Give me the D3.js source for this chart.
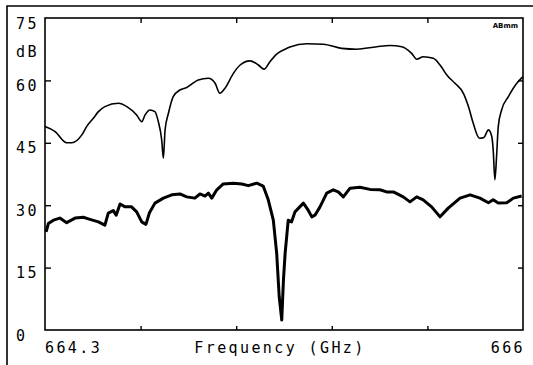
<!DOCTYPE html>
<html>
<head>
<meta charset="utf-8">
<script src="https://cdn.jsdelivr.net/npm/d3@7"></script>
<style>
  body { margin: 0; background: #fff; }
  svg text { font-family: "DejaVu Sans Mono", monospace; font-size: 15px; letter-spacing: 2.4px; fill: #000; }
</style>
</head>
<body>
<div id="chart"></div>
<script>
// upper trace (thin): frequency in GHz, level in dB
const upperFreq = [664.300, 664.336, 664.377, 664.395, 664.431, 664.448, 664.472, 664.490, 664.513, 664.561,
    664.591, 664.626, 664.644, 664.656, 664.673, 664.691, 664.703, 664.715, 664.721, 664.727,
    664.739, 664.756, 664.780, 664.804, 664.845, 664.881, 664.905, 664.922, 664.940, 664.970,
    664.994, 665.029, 665.059, 665.079, 665.100, 665.124, 665.154, 665.171, 665.231, 665.290,
    665.355, 665.409, 665.480, 665.527, 665.569, 665.604, 665.622, 665.645, 665.681, 665.705,
    665.729, 665.758, 665.788, 665.806, 665.823, 665.845, 665.861, 665.877, 665.889, 665.894,
    665.900, 665.906, 665.912, 665.924, 665.948, 665.978, 666.000];
const upperDb = [48.9, 47.7, 45.0, 45.0, 46.9, 48.9, 50.9, 52.5, 53.7, 54.5,
    53.7, 51.7, 50.1, 51.7, 52.9, 52.5, 50.1, 45.7, 41.3, 48.1,
    52.1, 56.1, 57.7, 58.3, 60.1, 60.5, 59.3, 56.9, 58.1, 61.7,
    63.7, 64.7, 63.7, 62.7, 64.5, 66.3, 67.5, 68.0, 68.8, 68.7,
    67.7, 67.5, 68.1, 68.4, 68.1, 66.5, 65.1, 65.7, 65.3, 63.7,
    61.3, 59.3, 56.9, 53.7, 49.7, 46.1, 46.3, 48.1, 46.5, 43.3,
    36.1, 41.7, 48.9, 52.9, 56.1, 59.3, 60.9];

// lower trace (thick)
const lowerFreq = [664.304, 664.312, 664.330, 664.353, 664.377, 664.407, 664.436, 664.460, 664.490, 664.513,
    664.525, 664.543, 664.553, 664.567, 664.585, 664.608, 664.626, 664.644, 664.659, 664.671,
    664.691, 664.721, 664.751, 664.780, 664.804, 664.833, 664.851, 664.869, 664.881, 664.893,
    664.911, 664.934, 664.970, 665.000, 665.023, 665.053, 665.076, 665.094, 665.112, 665.124,
    665.133, 665.142, 665.148, 665.154, 665.165, 665.177, 665.189, 665.219, 665.236, 665.249,
    665.260, 665.278, 665.302, 665.325, 665.343, 665.361, 665.385, 665.420, 665.456, 665.491,
    665.515, 665.539, 665.574, 665.598, 665.622, 665.645, 665.675, 665.705, 665.734, 665.776,
    665.812, 665.847, 665.877, 665.894, 665.912, 665.942, 665.966, 665.995];
const lowerDb = [23.6, 25.6, 26.4, 26.9, 25.8, 26.9, 27.1, 26.6, 26.0, 25.2,
    28.1, 28.7, 27.6, 30.3, 29.6, 29.6, 28.4, 26.0, 25.4, 28.1,
    30.5, 31.7, 32.5, 32.7, 32.0, 31.7, 32.7, 32.2, 32.9, 31.7,
    33.7, 35.1, 35.3, 35.1, 34.7, 35.3, 34.6, 31.3, 26.4, 18.4,
    8.0, 2.4, 12.0, 18.4, 26.4, 26.0, 28.4, 30.5, 28.8, 27.2,
    27.6, 29.6, 32.9, 33.7, 33.2, 32.0, 34.1, 34.3, 33.8, 33.7,
    33.2, 33.2, 32.0, 30.8, 32.0, 31.3, 29.6, 27.2, 29.3, 31.7,
    32.5, 31.7, 30.6, 31.3, 30.5, 30.6, 31.7, 32.2];

const freqTicks = [664.64, 664.98, 665.32, 665.66];
const dbTicks = [15, 30, 45, 60];
const dbLabels = [0, 15, 30, 45, 60, 75];
const xEndLabels = ['664.3', '666'];
const xTitle = 'Frequency (GHz)';
const yUnit = 'dB';
const badge = 'ABmm';

const width = 533, height = 365;
const plot = { left: 45, right: 523, top: 18, bottom: 330 };

const svg = d3.select('#chart').append('svg')
    .attr('width', width)
    .attr('height', height);

const x = d3.scaleLinear().domain([664.3, 666]).range([plot.left, plot.right]);
const y = d3.scaleLinear().domain([0, 75]).range([plot.bottom, plot.top]);

// outer frame (runs off the right and bottom of the picture)
svg.append('path')
    .attr('d', 'M7,370 L7,6 L540,6')
    .attr('fill', 'none').attr('stroke', '#000').attr('stroke-width', 1.6);

// plot box
svg.append('rect')
    .attr('x', plot.left).attr('y', plot.top)
    .attr('width', plot.right - plot.left).attr('height', plot.bottom - plot.top)
    .attr('fill', 'none').attr('stroke', '#000').attr('stroke-width', 1.6);

// inward ticks on all four sides
const tickAxes = [
    { axis: d3.axisRight(y).tickValues(dbTicks).tickSize(6), at: [plot.left, 0] },
    { axis: d3.axisLeft(y).tickValues(dbTicks).tickSize(5), at: [plot.right, 0] },
    { axis: d3.axisTop(x).tickValues(freqTicks).tickSize(4), at: [0, plot.bottom] },
    { axis: d3.axisBottom(x).tickValues(freqTicks).tickSize(5), at: [0, plot.top] }
];
tickAxes.forEach(t => {
    const g = svg.append('g')
        .attr('transform', 'translate(' + t.at[0] + ',' + t.at[1] + ')')
        .call(t.axis.tickFormat('').tickSizeOuter(0));
    g.select('.domain').remove();
    g.selectAll('line').attr('stroke', '#000').attr('stroke-width', 1.4);
});

// y labels, left aligned, sitting just under their tick
svg.selectAll('text.ylab')
    .data(dbLabels)
    .join('text')
    .attr('class', 'ylab')
    .attr('x', 16)
    .attr('y', d => y(d) + 10.5)
    .text(d => d);

svg.append('text').attr('x', 16).attr('y', y(67.5) + 8).text(yUnit);

// x labels
svg.append('text').attr('x', plot.left).attr('y', 353).text(xEndLabels[0]);
svg.append('text').attr('x', plot.right + 2).attr('y', 353).attr('text-anchor', 'end').text(xEndLabels[1]);
svg.append('text').attr('x', 280).attr('y', 353).attr('text-anchor', 'middle').text(xTitle);

svg.append('text')
    .attr('x', plot.right - 5).attr('y', 28)
    .attr('text-anchor', 'end')
    .style('font-family', 'DejaVu Sans').style('font-size', '7px')
    .style('font-weight', 'bold').style('letter-spacing', '0px')
    .text(badge);

// traces
const upper = upperFreq.map((f, i) => [f, upperDb[i]]);
const lower = lowerFreq.map((f, i) => [f, lowerDb[i]]);

svg.append('path')
    .datum(upper)
    .attr('fill', 'none').attr('stroke', '#000').attr('stroke-width', 1.6)
    .attr('stroke-linejoin', 'round')
    .attr('d', d3.line().x(d => x(d[0])).y(d => y(d[1])).curve(d3.curveMonotoneX));

svg.append('path')
    .datum(lower)
    .attr('fill', 'none').attr('stroke', '#000').attr('stroke-width', 3)
    .attr('stroke-linejoin', 'round')
    .attr('d', d3.line().x(d => x(d[0])).y(d => y(d[1])));
</script>
</body>
</html>
